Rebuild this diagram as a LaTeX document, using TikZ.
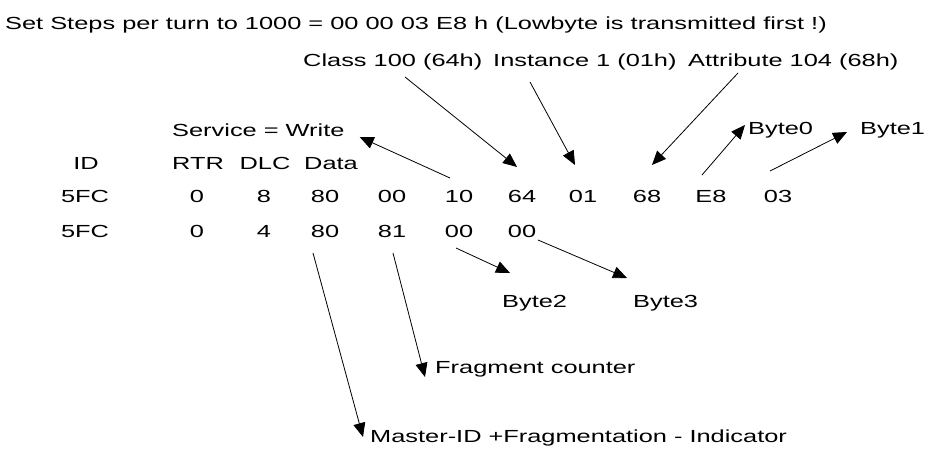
\documentclass[tikz,border=0pt]{standalone}
\usepackage{fontspec}
\setmainfont[FakeStretch=1.45]{Liberation Sans}
\usetikzlibrary{arrows.meta}

\begin{document}
\begin{tikzpicture}
		[x=1pt,y=-1pt,every node/.style={inner sep=0pt,font=\fontsize{17.5}{21}\selectfont},
		val/.style={anchor=base},lbl/.style={anchor=base west},
		edge/.style={-{Triangle[length=14pt,width=12pt]},line width=0.8pt}]
		\useasboundingbox (0,0) rectangle (947,449);
		\node[lbl] (ttl) at (5,30) {Set Steps per turn to 1000 = 00 00 03 E8 h (Lowbyte is transmitted first !)};
		\node[lbl] (cls) at (303,67) {Class 100 (64h)};
		\node[lbl] (inst) at (493,67) {Instance 1 (01h)};
		\node[lbl] (attr) at (688,67) {Attribute 104 (68h)};
		\node[lbl] (svc) at (172,137) {Service = Write};
		\node[lbl] (b0) at (748,135) {Byte0};
		\node[lbl] (b1) at (860,135) {Byte1};
		\node[lbl] (b2) at (502,307) {Byte2};
		\node[lbl] (b3) at (633,307) {Byte3};
		\node[lbl] (frg) at (435,373) {Fragment counter};
		\node[lbl] (mst) at (370,442) {Master-ID +Fragmentation - Indicator};
		
		\foreach \x/\t/\n in {86/ID/h1,198/RTR/h2,265/DLC/h3,331/Data/h4}
		\node[val] (\n) at (\x,170) {\t};
		\foreach \x/\t [count=\i] in {85/5FC,197/0,264/8,325/80,392/00,459/10,522/64,583/01,647/68,711/E8,778/03}
		\node[val] (r1c\i) at (\x,203) {\t};
		\foreach \x/\t [count=\i] in {85/5FC,197/0,264/4,325/80,392/81,459/00,522/00}
		\node[val] (r2c\i) at (\x,237) {\t};
		
		\foreach \from/\fx/\fy/\to/\tx/\ty in {r1c6.base/-9/-25/svc.base east/15/0,
			cls.base west/102/10/r1c7.base/-5/-36,inst.base west/37/15/r1c8.base/-8/-38,
			attr.base west/50/6/r1c9.base/5/-38,r1c10.base/-9/-28/b0.base west/-3/-10,
			r1c11.base/-8/-32/b1.base west/-13/-3,r2c6.base/-3/11/b2.base west/8/-34,
			r2c7.base/16/3/b3.base west/-6/-29,r2c4.base/-12/16/mst.base west/-7/-5,
			r2c5.base/1/16/frg.base west/-10/4}
		\draw[edge] ([shift={(\fx,\fy)}]\from) -- ([shift={(\tx,\ty)}]\to);
\end{tikzpicture}
\end{document}
